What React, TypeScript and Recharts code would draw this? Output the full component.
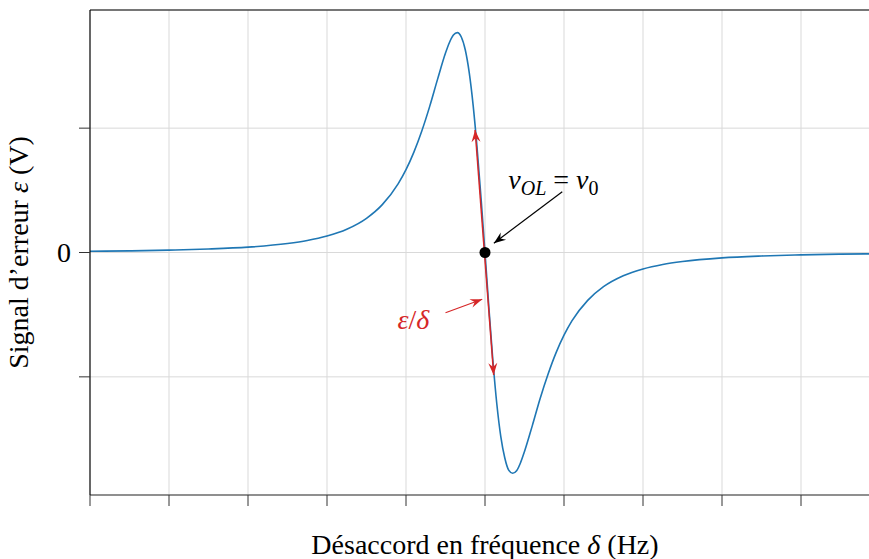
import { LineChart, Line, XAxis, YAxis, CartesianGrid, ReferenceLine, ReferenceDot } from 'recharts';

// désaccord δ (unités des graduations) et signal d'erreur ε
const detuning = [
  -5, -4.5, -4, -3.5, -3, -2.5, -2.25, -2, -1.75, -1.5, -1.3, -1.1, -1, -0.9, -0.8, -0.7,
  -0.6, -0.5, -0.45, -0.4, -0.35, -0.3, -0.25, -0.2, -0.15, -0.1, -0.05, 0,
  0.05, 0.1, 0.15, 0.2, 0.25, 0.3, 0.35, 0.4, 0.45, 0.5, 0.6, 0.7, 0.8, 0.9, 1, 1.1,
  1.3, 1.5, 1.75, 2, 2.25, 2.5, 3, 3.5, 4, 4.5, 5,
];
const errorSignal = [
  0.010, 0.013, 0.019, 0.028, 0.043, 0.072, 0.096, 0.132, 0.187, 0.275, 0.385, 0.552, 0.666, 0.807, 0.977, 1.175,
  1.394, 1.604, 1.689, 1.748, 1.768, 1.733, 1.630, 1.448, 1.183, 0.840, 0.437, 0,
  -0.45, -0.87, -1.22, -1.48, -1.65, -1.75, -1.775, -1.755, -1.69, -1.60, -1.39, -1.17, -0.975, -0.805, -0.665, -0.55,
  -0.385, -0.275, -0.187, -0.132, -0.096, -0.072, -0.043, -0.028, -0.019, -0.013, -0.010,
];
const xTicks = [-5, -4, -3, -2, -1, 0, 1, 2, 3, 4, 5];
const yTicks = [-1, 0, 1];
const xDomain = [-5, 5];
const yDomain = [-1.95, 1.95];

// annotations (coordonnées de données)
const tangent = [{ x: -0.125, y: 0.985 }, { x: 0.11, y: -0.985 }];
const lockArrow = [{ x: 0.978, y: 0.489 }, { x: 0.112, y: 0.074 }];
const slopeArrow = [{ x: -0.5, y: -0.484 }, { x: -0.035, y: -0.376 }];

const data = detuning.map((d, i) => ({ d, e: errorSignal[i] }));

const FONT = '"Liberation Serif", "DejaVu Serif", serif';
const BLUE = '#1f77b4';
const RED = '#d62728';
const GRID = '#d9d9d9';
const AXIS = '#333';

const head = (tx: number, ty: number, fx: number, fy: number, color: string) => {
  const len = Math.hypot(tx - fx, ty - fy) || 1;
  const ux = (tx - fx) / len, uy = (ty - fy) / len;
  const nx = -uy, ny = ux;
  const L = 12, W = 4.5, N = 8;
  const pts = [
    [tx, ty],
    [tx - L * ux + W * nx, ty - L * uy + W * ny],
    [tx - N * ux, ty - N * uy],
    [tx - L * ux - W * nx, ty - L * uy - W * ny],
  ].map((p) => p.join(',')).join(' ');
  return <polygon points={pts} fill={color} stroke="none" />;
};

function TangentShape(p: any) {
  const { x1, y1, x2, y2 } = p;
  return (
    <g>
      <line x1={x1} y1={y1} x2={x2} y2={y2} stroke={RED} strokeWidth={1.5} />
      {head(x1, y1, x2, y2, RED)}
      {head(x2, y2, x1, y1, RED)}
    </g>
  );
}

function LockShape(p: any) {
  const { x1, y1, x2, y2 } = p;
  return (
    <g>
      <line x1={x1} y1={y1} x2={x2} y2={y2} stroke="#000" strokeWidth={1.2} />
      {head(x2, y2, x1, y1, '#000')}
      <text x={x1 - 54} y={y1 - 3} fontFamily={FONT} fontSize={28} fontStyle="italic" fill="#000">
        ν<tspan fontSize={20} dy={6}>OL</tspan>
        <tspan fontStyle="normal" dy={-6}> = </tspan>
        <tspan>ν</tspan>
        <tspan fontStyle="normal" fontSize={20} dy={6}>0</tspan>
      </text>
    </g>
  );
}

function SlopeShape(p: any) {
  const { x1, y1, x2, y2 } = p;
  return (
    <g>
      <line x1={x1} y1={y1} x2={x2} y2={y2} stroke={RED} strokeWidth={1.2} />
      {head(x2, y2, x1, y1, RED)}
      <text x={x1 - 48} y={y1 + 16} fontFamily={FONT} fontSize={28} fill={RED}>
        <tspan fontStyle="italic">ε</tspan>/<tspan fontStyle="italic">δ</tspan>
      </text>
    </g>
  );
}

export default function App() {
  // la figure d'origine est rognée à droite : le graphe déborde du cadre de 869 px
  return (
    <div style={{ position: 'absolute', left: 0, top: 0, width: 869, height: 559, overflow: 'hidden', background: '#fff' }}>
      <LineChart width={880} height={559} data={data} margin={{ top: 10, right: 0, bottom: 0, left: 0 }}>
        <CartesianGrid stroke={GRID} strokeWidth={1} verticalValues={xTicks.slice(1, -1)} />
        <XAxis
          dataKey="d"
          type="number"
          domain={xDomain}
          ticks={xTicks}
          allowDataOverflow
          height={64}
          tickSize={11}
          tickFormatter={() => ''}
          axisLine={{ stroke: AXIS, strokeWidth: 1.2 }}
          tickLine={{ stroke: AXIS }}
          label={{
            content: (lp: any) => {
              const vb = lp.viewBox || { x: 90, width: 790 };
              const cx = vb.x + vb.width / 2;
              return (
                <text x={cx} y={554} textAnchor="middle" fontFamily={FONT} fontSize={28} fill="#000">
                  Désaccord en fréquence <tspan fontStyle="italic">δ</tspan> (Hz)
                </text>
              );
            },
          }}
        />
        <YAxis
          type="number"
          domain={yDomain}
          ticks={yTicks}
          allowDataOverflow
          width={90}
          tickSize={11}
          tickMargin={8}
          tickFormatter={(v: number) => (v === 0 ? '0' : '')}
          tick={{ fill: '#000', fontSize: 28, fontFamily: FONT }}
          axisLine={{ stroke: '#000', strokeWidth: 1.2 }}
          tickLine={{ stroke: AXIS }}
          label={{
            content: (lp: any) => {
              const vb = lp.viewBox || { y: 10, height: 485 };
              const cy = vb.y + vb.height / 2;
              return (
                <text x={28} y={cy} transform={`rotate(-90 28 ${cy})`} textAnchor="middle" fontFamily={FONT} fontSize={28} fill="#000">
                  Signal d’erreur <tspan fontStyle="italic">ε</tspan> (V)
                </text>
              );
            },
          }}
        />
        <ReferenceLine y={yDomain[1]} stroke="#000" strokeWidth={1.2} ifOverflow="visible" />
        <Line type="monotone" dataKey="e" stroke={BLUE} strokeWidth={1.6} dot={false} isAnimationActive={false} />
        <ReferenceLine segment={tangent} ifOverflow="visible" shape={TangentShape} />
        <ReferenceLine segment={lockArrow} ifOverflow="visible" shape={LockShape} />
        <ReferenceLine segment={slopeArrow} ifOverflow="visible" shape={SlopeShape} />
        <ReferenceDot x={0} y={0} r={5.5} fill="#000" stroke="none" ifOverflow="visible" />
      </LineChart>
    </div>
  );
}
